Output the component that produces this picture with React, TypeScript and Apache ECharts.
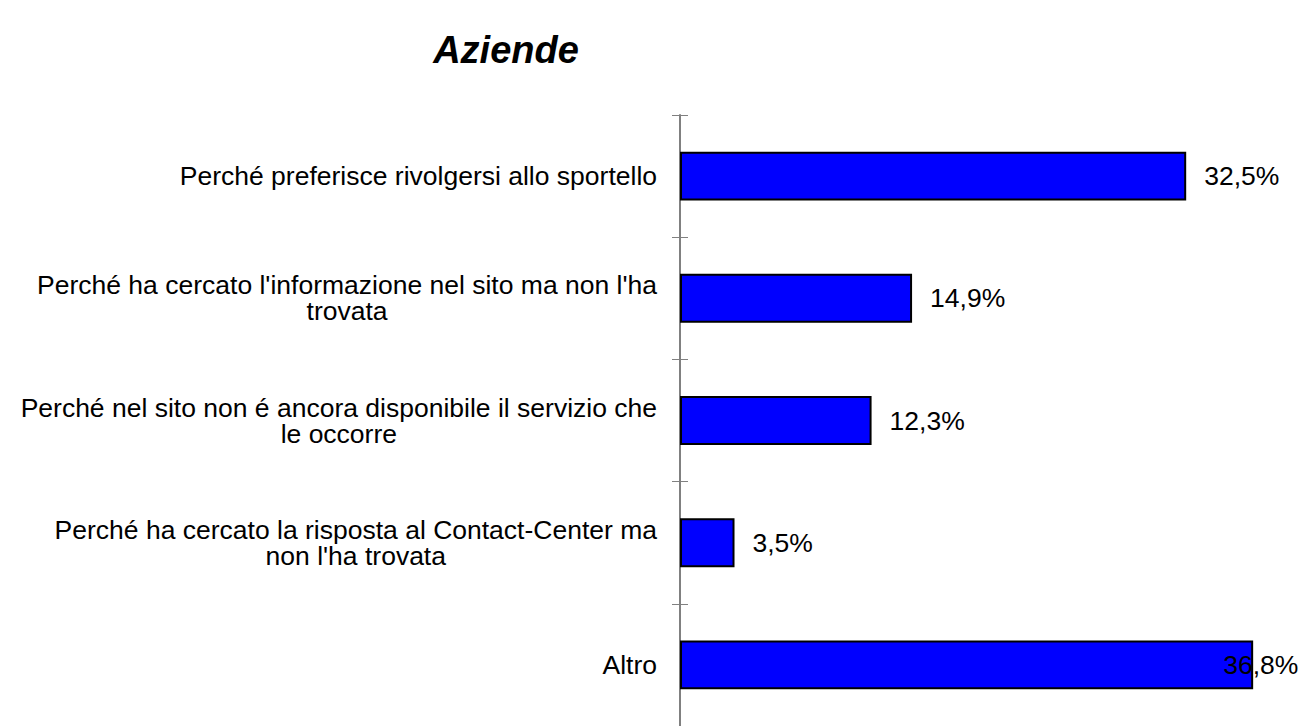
import React, { useEffect, useRef } from "react";
import * as echarts from "echarts";

const TITLE = "Aziende";
const categories = [
  "Perché preferisce rivolgersi allo sportello",
  "Perché ha cercato l'informazione nel sito ma non l'ha\ntrovata",
  "Perché nel sito non é ancora disponibile il servizio che\nle occorre",
  "Perché ha cercato la risposta al Contact-Center ma\nnon l'ha trovata",
  "Altro",
];
const values = [32.5, 14.9, 12.3, 3.5, 36.8];

const FONT = "'Liberation Sans', Arial, sans-serif";

export default function App() {
  const ref = useRef<HTMLDivElement>(null);
  useEffect(() => {
    if (!ref.current) return;
    const chart = echarts.init(ref.current, null, { renderer: "svg" });
    const fmt = (v: number) => v.toFixed(1).replace(".", ",") + "%";
    const last = values.length - 1;
    chart.setOption({
      animation: false,
      backgroundColor: "#ffffff",
      title: {
        text: TITLE,
        left: 501,
        top: 26,
        textAlign: "center",
        textStyle: {
          fontFamily: FONT,
          fontSize: 38,
          fontWeight: "bold",
          fontStyle: "italic",
          color: "#000",
        },
      },
      grid: { left: 680, top: 115, width: 630, height: 621.5, containLabel: false },
      xAxis: { type: "value", min: 0, max: 40, show: false, splitLine: { show: false } },
      yAxis: [
        {
          type: "category",
          data: categories,
          inverse: true,
          position: "left",
          axisLine: { show: true, lineStyle: { color: "#808080", width: 2 } },
          axisTick: { show: true, inside: false, length: 8, lineStyle: { color: "#808080", width: 1 } },
          splitLine: { show: false },
          axisLabel: {
            margin: 23,
            align: "right",
            formatter: (v: string) => v.split("\n").map((l) => `{c|${l}}`).join("\n"),
            rich: {
              c: { align: "center", fontFamily: FONT, fontSize: 26.5, lineHeight: 26, color: "#000" },
            },
          },
        },
        {
          type: "category",
          data: categories,
          inverse: true,
          position: "left",
          axisLine: { show: false },
          axisTick: { show: true, inside: true, length: 8, lineStyle: { color: "#808080", width: 1 } },
          axisLabel: { show: false },
          splitLine: { show: false },
        },
      ],
      series: [
        {
          type: "bar",
          yAxisIndex: 0,
          barCategoryGap: "60%",
          data: values.map((v, i) =>
            i === last ? { value: v, label: { offset: [-48, 0] } } : { value: v }
          ),
          itemStyle: { color: "#0000FF", borderColor: "#000", borderWidth: 2 },
          label: {
            show: true,
            position: "right",
            distance: 18,
            formatter: (p: any) => fmt(p.value),
            fontFamily: FONT,
            fontSize: 26.5,
            color: "#000",
          },
        },
      ],
    });
    return () => chart.dispose();
  }, []);
  return (
    <div
      ref={ref}
      style={{ position: "absolute", left: 0, top: 0, width: 1303, height: 726, background: "#fff" }}
    />
  );
}
